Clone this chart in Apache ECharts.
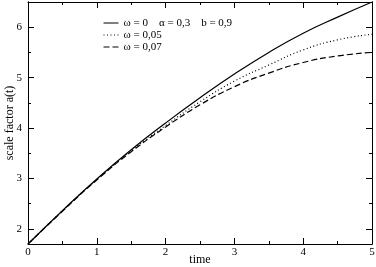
<!DOCTYPE html>
<html>
<head>
<meta charset="utf-8">
<script src="https://cdn.jsdelivr.net/npm/echarts@6/dist/echarts.min.js"></script>
<style>
  html, body { margin: 0; padding: 0; background: #fff; }
  #chart { width: 376px; height: 267px; }
</style>
</head>
<body>
<div id="chart"></div>
<script>
// time values and scale factor curves
var times = [0, 0.5, 1, 1.5, 2, 2.5, 3, 3.5, 4, 4.5, 5];
var omega0 = [1.7, 2.36, 2.99, 3.57, 4.1, 4.6, 5.07, 5.5, 5.88, 6.2, 6.5];
var omega005 = [1.7, 2.36, 2.98, 3.55, 4.05, 4.52, 4.93, 5.25, 5.55, 5.75, 5.86];
var omega007 = [1.7, 2.35, 2.97, 3.53, 4.02, 4.46, 4.82, 5.09, 5.3, 5.43, 5.5];
var names = ['ω = 0    α = 0,3    b = 0,9', 'ω = 0,05', 'ω = 0,07'];
var yMajor = [2, 3, 4, 5, 6];
var yMinor = [2.5, 3.5, 4.5, 5.5];

var serif = 'Liberation Serif';

function pairs(ys) {
  var out = [];
  for (let i = 0; i < times.length; i++) {
    out.push([times[i], ys[i]]);
  }
  return out;
}

function yAx(pos, ticks, len, labels) {
  return {
    type: 'value', position: pos, min: 1.7, max: 6.5,
    axisLine: { show: true, lineStyle: { color: '#000', width: 1 } },
    axisTick: { show: true, inside: true, length: len, customValues: ticks, lineStyle: { color: '#000' } },
    axisLabel: labels ? { show: true, customValues: ticks, color: '#000', fontFamily: serif, fontSize: 11, margin: 6 } : { show: false },
    splitLine: { show: false }
  };
}

function xAx(pos, labels) {
  return {
    type: 'value', position: pos, min: 0, max: 5, interval: 1,
    name: labels ? 'time' : '', nameLocation: 'middle', nameGap: 10, nameMoveOverlap: false,
    nameTextStyle: { color: '#000', fontFamily: serif, fontSize: 12 },
    axisLine: { show: true, lineStyle: { color: '#000', width: 1 } },
    axisTick: { show: true, inside: true, length: 6, lineStyle: { color: '#000' } },
    minorTick: { show: true, splitNumber: 2, length: 3, lineStyle: { color: '#000' } },
    axisLabel: { show: labels, color: '#000', fontFamily: serif, fontSize: 11, margin: 3 },
    splitLine: { show: false }
  };
}

const chart = echarts.init(document.getElementById('chart'));
var leftMajor = yAx('left', yMajor, 6, true);
leftMajor.name = 'scale factor a(t)';
leftMajor.nameLocation = 'middle';
leftMajor.nameGap = 12;
leftMajor.nameMoveOverlap = false;
leftMajor.nameTextStyle = { color: '#000', fontFamily: serif, fontSize: 12 };

chart.setOption({
  animation: false,
  grid: { left: 28, right: 4, top: 2, bottom: 23, outerBoundsMode: 'none', containLabel: false },
  legend: {
    orient: 'vertical',
    left: 98, top: 12,
    itemWidth: 15, itemHeight: 6, itemGap: 0,
    itemStyle: { color: 'transparent', borderWidth: 0, opacity: 0 },
    lineStyle: { width: 1 },
    textStyle: { color: '#000', fontFamily: serif, fontSize: 11, lineHeight: 12 },
    data: names
  },
  xAxis: [xAx('bottom', true), xAx('top', false)],
  yAxis: [
    leftMajor,
    yAx('left', yMinor, 3, false),
    yAx('right', yMajor, 6, false),
    yAx('right', yMinor, 3, false)
  ],
  series: [
    { name: names[0], type: 'line', smooth: true, symbol: 'none', data: pairs(omega0),
      lineStyle: { color: '#000', width: 1.2, type: 'solid' }, itemStyle: { color: '#000' } },
    { name: names[1], type: 'line', smooth: true, symbol: 'none', data: pairs(omega005),
      lineStyle: { color: '#000', width: 1.2, type: [1, 2.5] }, itemStyle: { color: '#000' } },
    { name: names[2], type: 'line', smooth: true, symbol: 'none', data: pairs(omega007),
      lineStyle: { color: '#000', width: 1.2, type: [6, 3] }, itemStyle: { color: '#000' } }
  ]
});
</script>
</body>
</html>
